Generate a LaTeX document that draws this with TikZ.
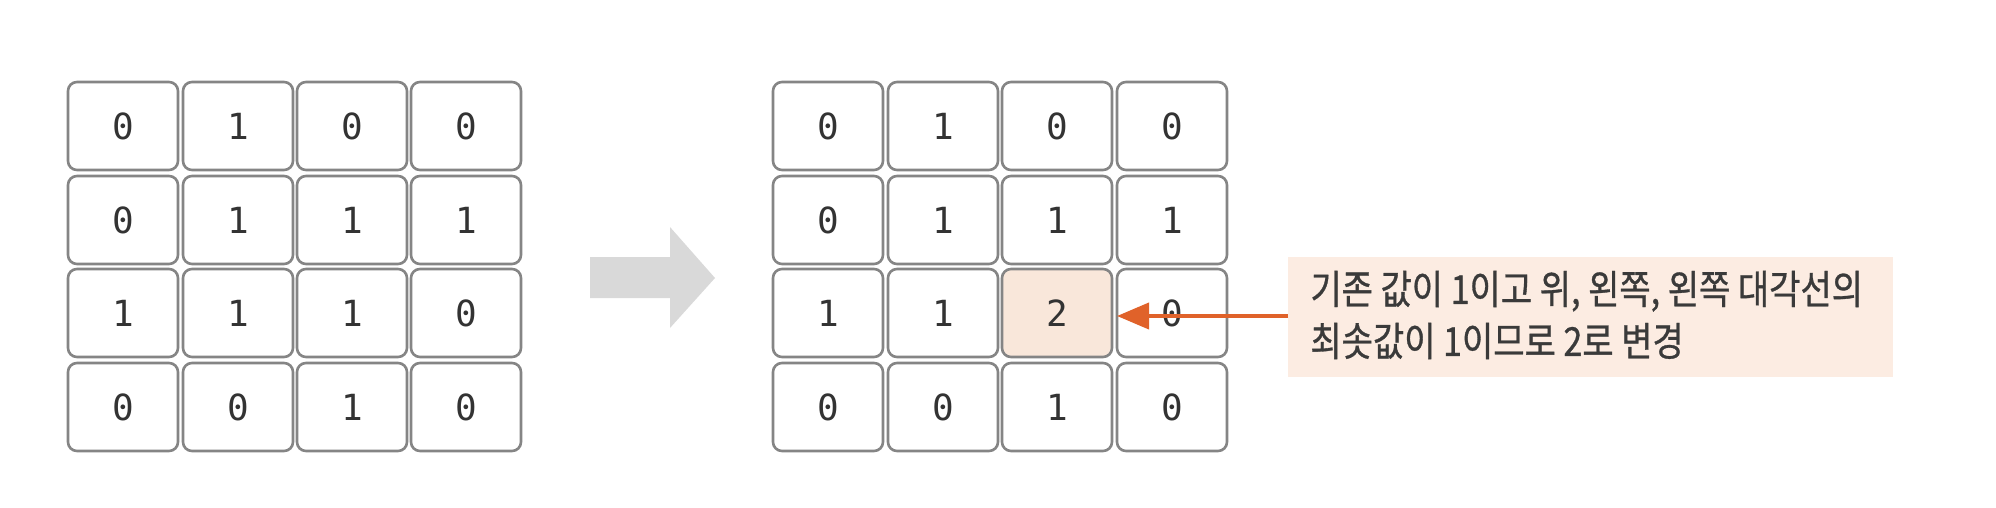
\documentclass[tikz,border=0pt]{standalone}
\usepackage{fontspec}
\newfontfamily\krfont[FakeStretch=0.85,FakeBold=0.8]{Noto Sans CJK KR}
\newfontfamily\monofont{DejaVu Sans Mono}
\usetikzlibrary{arrows.meta}
\definecolor{cellborder}{HTML}{858585}
\definecolor{celltext}{HTML}{333333}
\definecolor{hlfill}{HTML}{F9E7DA}
\definecolor{callfill}{HTML}{FCECE2}
\definecolor{calltext}{HTML}{3A3A3A}
\definecolor{bigarrow}{HTML}{D9D9D9}
\definecolor{orangearrow}{HTML}{E0622A}
\tikzset{
  cell/.style={draw=cellborder, line width=1.3pt, rounded corners=4.5pt, fill=white,
    minimum width=55pt, minimum height=44pt, inner sep=0pt,
    font=\monofont\fontsize{18}{18}\selectfont, text=celltext},
  hlcell/.style={cell, fill=hlfill},
  callbox/.style={fill=callfill, draw=none, minimum width=302.5pt, minimum height=60pt, inner sep=0pt},
  calltxt/.style={align=left, inner sep=0pt, text=calltext,
    font=\krfont\fontsize{20}{26}\selectfont},
  pointer/.style={draw=orangearrow, line width=2pt, -{Triangle[length=16pt,width=13pt]}}
}
\begin{document}
\begin{tikzpicture}[x=0.5pt,y=-0.5pt]
\useasboundingbox (0,0) rectangle (1996,508);
% left grid
\node[cell] (a11) at (123,126) {0};
\node[cell] (a12) at (238,126) {1};
\node[cell] (a13) at (352,126) {0};
\node[cell] (a14) at (466,126) {0};
\node[cell] (a21) at (123,220) {0};
\node[cell] (a22) at (238,220) {1};
\node[cell] (a23) at (352,220) {1};
\node[cell] (a24) at (466,220) {1};
\node[cell] (a31) at (123,313) {1};
\node[cell] (a32) at (238,313) {1};
\node[cell] (a33) at (352,313) {1};
\node[cell] (a34) at (466,313) {0};
\node[cell] (a41) at (123,407) {0};
\node[cell] (a42) at (238,407) {0};
\node[cell] (a43) at (352,407) {1};
\node[cell] (a44) at (466,407) {0};
% big arrow
\fill[bigarrow] (590,257) -- (670,257) -- (670,227) -- (715,278) -- (670,328) -- (670,298) -- (590,298) -- cycle;
% right grid
\node[cell] (b11) at (828,126) {0};
\node[cell] (b12) at (943,126) {1};
\node[cell] (b13) at (1057,126) {0};
\node[cell] (b14) at (1172,126) {0};
\node[cell] (b21) at (828,220) {0};
\node[cell] (b22) at (943,220) {1};
\node[cell] (b23) at (1057,220) {1};
\node[cell] (b24) at (1172,220) {1};
\node[cell] (b31) at (828,313) {1};
\node[cell] (b32) at (943,313) {1};
\node[hlcell] (b33) at (1057,313) {2};
\node[cell] (b34) at (1172,313) {0};
\node[cell] (b41) at (828,407) {0};
\node[cell] (b42) at (943,407) {0};
\node[cell] (b43) at (1057,407) {1};
\node[cell] (b44) at (1172,407) {0};
% callout
\node[callbox, anchor=north west] (call) at (1288,257) {};
\node[calltxt, anchor=west] (calltext) at (1310,315) {기존 값이 1이고 위, 왼쪽, 왼쪽 대각선의\\최솟값이 1이므로 2로 변경};
\coordinate (pstart) at (1288,316);
\coordinate (pend) at (1117,316);
\draw[pointer] (pstart) -- (pend);
\end{tikzpicture}
\end{document}
